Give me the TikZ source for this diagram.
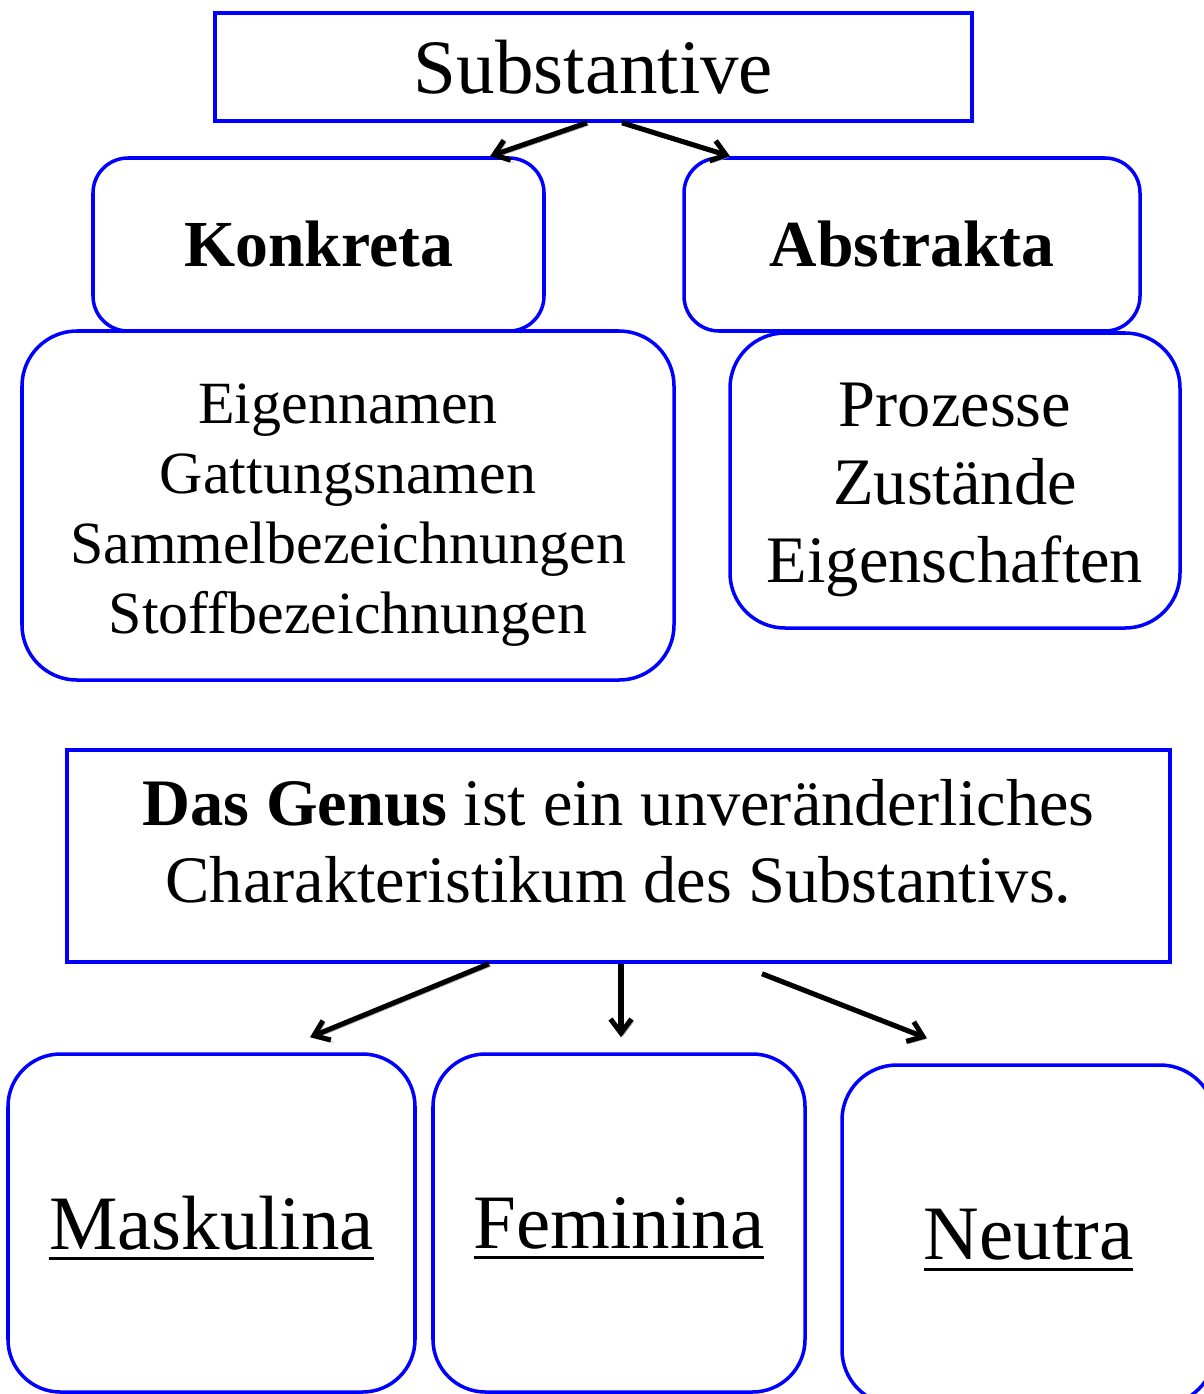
\documentclass[tikz,border=0pt]{standalone}
\usepackage{fontspec}
\setmainfont{Liberation Serif}
\usetikzlibrary{arrows.meta}

% thick underline
\newcommand{\uln}[1]{\setbox0\hbox{#1}\rlap{\smash{\rule[-6.2pt]{\wd0}{1.7pt}}}\box0}

\tikzset{
	box/.style={draw=blue, line width=2pt, inner sep=0pt, align=center},
	rbox/.style={box, rounded corners=#1},
	arr/.style={-{Straight Barb[length=2.8mm,width=4.2mm]}, line width=2.9pt,
		preaction={draw=black!35, transform canvas={xshift=1.3pt,yshift=-1.3pt}}},
	big/.style={font=\fontsize{43.8}{50}\selectfont},
	mid/.style={font=\fontsize{37.8}{44.2}\selectfont},
}

\begin{document}
\begin{tikzpicture}
	\clip (0,0) rectangle (24.08,-27.88);

	% Substantive
	\node[box, big, minimum width=15.14cm, minimum height=2.16cm] (subst) at (11.87,-1.34) {Substantive};
	\node[rbox=0.7cm, font=\fontsize{37.4}{44}\selectfont\bfseries, minimum width=9.02cm, minimum height=3.46cm] (konk) at (6.37,-4.89) {Konkreta};
	\node[rbox=0.7cm, font=\fontsize{37.4}{44}\selectfont\bfseries, minimum width=9.12cm, minimum height=3.46cm] (abst) at (18.24,-4.89) {Abstrakta};
	\node[rbox=1.1cm, minimum width=13.04cm, minimum height=6.98cm] (konkl) at (6.96,-10.11) {};
	\node[font=\fontsize{34.1}{39.8}\selectfont, align=center] (konktext) at (6.96,-10.3)
		{Eigennamen\\Gattungsnamen\\Sammelbezeichnungen\\Stoffbezeichnungen};
	\node[rbox=1.1cm, minimum width=9.0cm, minimum height=5.9cm] (abstl) at (19.10,-9.61) {};
	\node[mid, align=center] (absttext) at (19.10,-9.8)
		{Prozesse\\Zustände\\Eigenschaften};

	\draw[arr] ([xshift=-0.13cm]subst.south) -- ([xshift=3.43cm]konk.north);
	\draw[arr] ([xshift=0.57cm]subst.south) -- ([xshift=-3.64cm]abst.north);

	% Genus
	\node[box, minimum width=22.06cm, minimum height=4.24cm] (genus) at (12.37,-17.12) {};
	\node[mid, align=center] (genustext) at (12.37,-16.83)
		{\textbf{Das Genus} ist ein unveränderliches\\Charakteristikum des Substantivs.};

	\node[rbox=1.05cm, big, minimum width=8.14cm, minimum height=6.76cm] (mask) at (4.23,-24.46) {\uln{Maskulina}};
	\node[rbox=1.05cm, big, minimum width=7.44cm, minimum height=6.76cm] (fem) at (12.38,-24.46) {\uln{Feminina}};
	\node[rbox=1.1cm, big, minimum width=7.46cm, minimum height=6.8cm] (neut) at (20.57,-24.7) {\uln{Neutra}};

	\draw[arr] ([xshift=-2.59cm]genus.south) -- ([xshift=1.97cm,yshift=0.3cm]mask.north);
	\draw[arr] ([xshift=0.05cm]genus.south) -- ([xshift=0.04cm,yshift=0.3cm]fem.north);
	\draw[arr] ([xshift=2.87cm,yshift=-0.2cm]genus.south) -- ([xshift=-2.03cm,yshift=0.5cm]neut.north);
\end{tikzpicture}
\end{document}
